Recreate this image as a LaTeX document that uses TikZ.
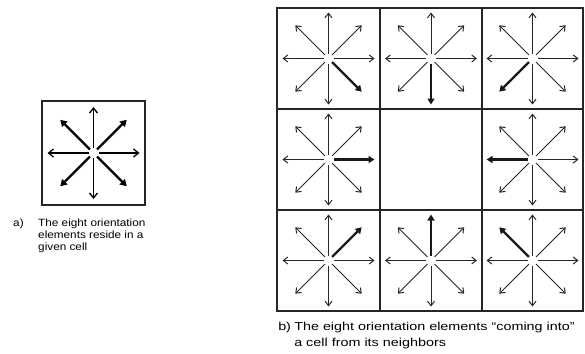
\documentclass[tikz,border=0pt]{standalone}
\usepackage{fontspec}
\setmainfont{Liberation Sans}
\usetikzlibrary{arrows.meta}
\tikzset{
  thinarr/.style={line width=1pt,-{Straight Barb[length=4.5pt,width=7pt]}, draw=black!85},
  boldarr/.style={line width=2.2pt,-{Triangle[length=6pt,width=7pt]}, draw=black!90},
  cellbox/.style={line width=1.3pt, draw=black!85},
  capa/.style={anchor=base west, inner sep=0pt, font=\fontsize{10.5}{12}\selectfont, xscale=1.12, transform shape},
  capb/.style={anchor=base west, inner sep=0pt, font=\fontsize{11.5}{12}\selectfont, xscale=1.25, transform shape}
}
% #1 x, #2 y, #3 bold angle, #4 orth length, #5 diag length
\newcommand\rosette[5]{%
  \begin{scope}[shift={(#1,#2)}]
  \foreach \a in {0,45,...,315}{
    \pgfmathtruncatemacro\isorth{mod(\a,90)==0 ? 1 : 0}
    \ifnum\isorth=1 \def\L{#4}\else\def\L{#5}\fi
    \ifnum\a=#3
      \draw[boldarr] (\a:5) -- (\a:\L);
    \else
      \draw[thinarr] (\a:5) -- (\a:\L);
    \fi
  }
  \end{scope}}
\begin{document}
\begin{tikzpicture}[x=1pt,y=-1pt]
\useasboundingbox (0,0) rectangle (585,353);
% ---- a) single cell
\draw[cellbox] (42,101) rectangle (145,205);
\begin{scope}[shift={(93.5,153)}]
  \foreach \a in {0,90,180,270}{\draw[line width=1.3pt,-{Straight Barb[length=5pt,width=8pt]}] (\a:5) -- (\a:46);}
  \foreach \a in {45,135,225,315}{\draw[line width=2.2pt,-{Triangle[length=6.5pt,width=7.5pt]}] (\a:5) -- (\a:47);}
\end{scope}
\node[capa] (la) at (13,226) {a)};
\node[capa] (ta1) at (38,226) {The eight orientation};
\node[capa] (ta2) at (38,238) {elements reside in a};
\node[capa] (ta3) at (38,250) {given cell};
% ---- b) grid
\draw[cellbox] (277,8) rectangle (583,311);
\draw[cellbox] (380,8) -- (380,311);
\draw[cellbox] (482,8) -- (482,311);
\draw[cellbox] (277,109) -- (583,109);
\draw[cellbox] (277,210) -- (583,210);
\rosette{328.5}{58.5}{45}{46}{47}
\rosette{431}{58.5}{90}{46}{47}
\rosette{532.5}{58.5}{135}{46}{47}
\rosette{328.5}{159.5}{0}{46}{47}
\rosette{532.5}{159.5}{180}{46}{47}
\rosette{328.5}{260.5}{315}{46}{47}
\rosette{431}{260.5}{270}{46}{47}
\rosette{532.5}{260.5}{225}{46}{47}
\node[capb] (lb) at (278,330) {b)};
\node[capb] (tb1) at (294,330) {The eight orientation elements “coming into”};
\node[capb] (tb2) at (294,346) {a cell from its neighbors};
\end{tikzpicture}
\end{document}
